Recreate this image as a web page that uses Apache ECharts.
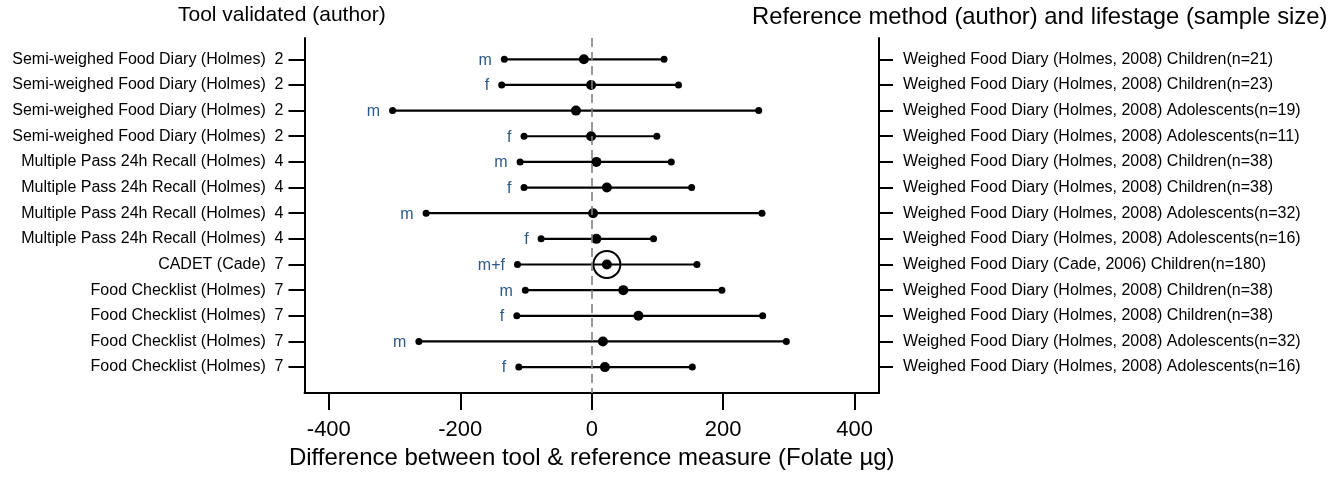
<!DOCTYPE html>
<html>
<head>
<meta charset="utf-8">
<script src="https://cdn.jsdelivr.net/npm/echarts@6/dist/echarts.min.js"></script>
<style>
  html, body { margin: 0; padding: 0; background: #fff; }
  #chart { width: 1338px; height: 477px; }
</style>
</head>
<body>
<div id="chart"></div>
<script>
// 왼쪽: 검증된 도구 (저자)
const toolLabels = [
    'Semi-weighed Food Diary (Holmes)  2',
    'Semi-weighed Food Diary (Holmes)  2',
    'Semi-weighed Food Diary (Holmes)  2',
    'Semi-weighed Food Diary (Holmes)  2',
    'Multiple Pass 24h Recall (Holmes)  4',
    'Multiple Pass 24h Recall (Holmes)  4',
    'Multiple Pass 24h Recall (Holmes)  4',
    'Multiple Pass 24h Recall (Holmes)  4',
    'CADET (Cade)  7',
    'Food Checklist (Holmes)  7',
    'Food Checklist (Holmes)  7',
    'Food Checklist (Holmes)  7',
    'Food Checklist (Holmes)  7'
];

// 오른쪽: 참조 방법 및 생애주기
const referenceLabels = [
    'Weighed Food Diary (Holmes, 2008) Children(n=21)',
    'Weighed Food Diary (Holmes, 2008) Children(n=23)',
    'Weighed Food Diary (Holmes, 2008) Adolescents(n=19)',
    'Weighed Food Diary (Holmes, 2008) Adolescents(n=11)',
    'Weighed Food Diary (Holmes, 2008) Children(n=38)',
    'Weighed Food Diary (Holmes, 2008) Children(n=38)',
    'Weighed Food Diary (Holmes, 2008) Adolescents(n=32)',
    'Weighed Food Diary (Holmes, 2008) Adolescents(n=16)',
    'Weighed Food Diary (Cade, 2006) Children(n=180)',
    'Weighed Food Diary (Holmes, 2008) Children(n=38)',
    'Weighed Food Diary (Holmes, 2008) Children(n=38)',
    'Weighed Food Diary (Holmes, 2008) Adolescents(n=32)',
    'Weighed Food Diary (Holmes, 2008) Adolescents(n=16)'
];

const sexLabels = ['m', 'f', 'm', 'f', 'm', 'f', 'm', 'f', 'm+f', 'm', 'f', 'm', 'f'];

// 평균 차이와 일치 한계 (Folate µg)
const lowerLimits = [-133, -137, -303, -103, -109, -103, -252, -77, -113, -101, -114, -263, -111];
const meanDiffs   = [-12, -1, -24, -1, 7, 23, 2, 7, 23, 48, 71, 17, 20];
const upperLimits = [110, 132, 254, 99, 121, 152, 259, 94, 160, 198, 260, 296, 153];

const xTicks = [-400, -200, 0, 200, 400];

const FONT = "'Liberation Sans', Arial, sans-serif";
const rows = toolLabels.map((_, i) => i + 1);

const chart = echarts.init(document.getElementById('chart'));

const yAxisBase = {
    type: 'value',
    min: 0.17,
    max: 14.01,
    inverse: true,
    splitLine: { show: false },
    axisLine: { show: true, onZero: false, lineStyle: { color: '#000', width: 2 } },
    axisTick: { show: true, customValues: rows, lineStyle: { color: '#000', width: 2 } }
};

const option = {
    animation: false,
    title: [
        {
            text: 'Tool validated (author)',
            left: 178, top: 5, padding: 0,
            textStyle: { fontFamily: FONT, fontSize: 21, fontWeight: 'normal', color: '#000' }
        },
        {
            text: 'Reference method (author) and lifestage (sample size)',
            left: 752, top: 5, padding: 0,
            textStyle: { fontFamily: FONT, fontSize: 23.8, fontWeight: 'normal', color: '#000' }
        }
    ],
    grid: { left: 304.5, right: 459, top: 38, bottom: 84, containLabel: false },
    xAxis: {
        type: 'value',
        min: -437,
        max: 437,
        splitLine: { show: false },
        axisLine: { show: true, onZero: false, lineStyle: { color: '#000', width: 2 } },
        axisTick: { show: true, length: 17, customValues: xTicks, lineStyle: { color: '#000', width: 2 } },
        axisLabel: {
            customValues: xTicks, margin: 26,
            fontFamily: FONT, fontSize: 22, color: '#000'
        },
        name: 'Difference between tool & reference measure (Folate µg)',
        nameLocation: 'middle',
        nameGap: 49,
        nameTextStyle: { fontFamily: FONT, fontSize: 24, color: '#000' }
    },
    yAxis: [
        {
            ...yAxisBase,
            position: 'left',
            axisTick: { ...yAxisBase.axisTick, length: 16 },
            axisLabel: {
                customValues: rows, margin: 21,
                fontFamily: FONT, fontSize: 16, color: '#000',
                formatter: v => toolLabels[Math.round(v) - 1] || ''
            }
        },
        {
            ...yAxisBase,
            position: 'right',
            axisTick: { ...yAxisBase.axisTick, length: 14 },
            axisLabel: {
                customValues: rows, margin: 24,
                fontFamily: FONT, fontSize: 16, color: '#000',
                formatter: v => referenceLabels[Math.round(v) - 1] || ''
            }
        }
    ],
    series: [
        {
            // 일치 한계 구간 선
            type: 'custom',
            data: rows.map((r, i) => [lowerLimits[i], upperLimits[i], r]),
            renderItem: (params, api) => {
                const p1 = api.coord([api.value(0), api.value(2)]);
                const p2 = api.coord([api.value(1), api.value(2)]);
                return {
                    type: 'line',
                    shape: { x1: p1[0], y1: p1[1], x2: p2[0], y2: p2[1] },
                    style: { stroke: '#000', lineWidth: 2.2 }
                };
            },
            markLine: {
                silent: true,
                symbol: 'none',
                label: { show: false },
                lineStyle: { color: '#808080', type: [9, 5], width: 1.6 },
                data: [{ xAxis: 0 }]
            },
            z: 2
        },
        {
            // 하한 끝점 + 성별 라벨
            type: 'scatter',
            data: rows.map((r, i) => [lowerLimits[i], r]),
            symbol: 'circle',
            symbolSize: 7,
            itemStyle: { color: '#000', opacity: 1 },
            label: {
                show: true,
                position: 'left',
                distance: 9,
                offset: [0, 1],
                fontFamily: FONT,
                fontSize: 16,
                color: '#2d5a87',
                formatter: p => sexLabels[p.dataIndex]
            },
            z: 3
        },
        {
            // 상한 끝점
            type: 'scatter',
            data: rows.map((r, i) => [upperLimits[i], r]),
            symbol: 'circle',
            symbolSize: 7,
            itemStyle: { color: '#000', opacity: 1 },
            z: 3
        },
        {
            // 평균 차이
            type: 'scatter',
            data: rows.map((r, i) => [meanDiffs[i], r]),
            symbol: 'circle',
            symbolSize: 10,
            itemStyle: { color: '#000', opacity: 1 },
            z: 4
        },
        {
            // 남녀 통합 결과 강조 원
            type: 'scatter',
            data: rows.filter((r, i) => sexLabels[i] === 'm+f').map(r => [meanDiffs[r - 1], r]),
            symbol: 'circle',
            symbolSize: 27,
            itemStyle: { color: 'rgba(0,0,0,0)', borderColor: '#000', borderWidth: 2, opacity: 1 },
            z: 4
        }
    ]
};

chart.setOption(option);
</script>
</body>
</html>
